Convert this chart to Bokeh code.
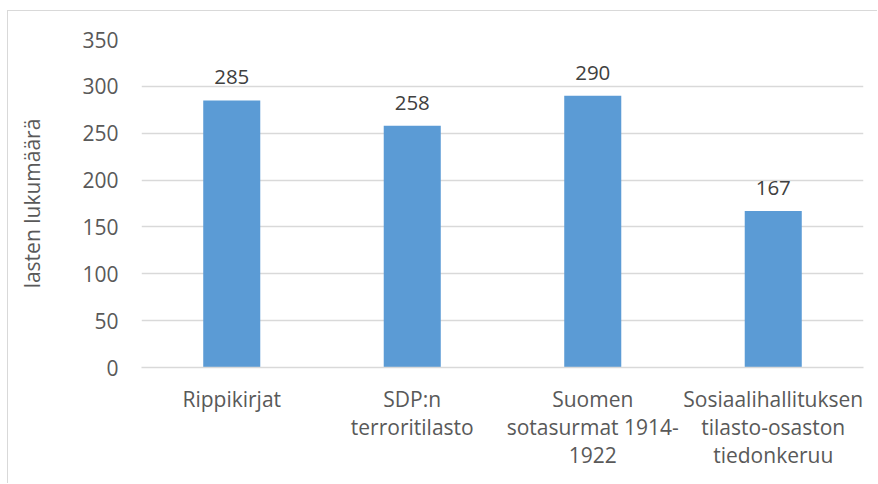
from bokeh.plotting import figure
from bokeh.models import ColumnDataSource, FactorRange, Range1d, FixedTicker
from bokeh.core.properties import value
from bokeh.embed import file_html
from bokeh.resources import INLINE

categories = ["Rippikirjat", "SDP:n\nterroritilasto", "Suomen\nsotasurmat 1914-\n1922",
              "Sosiaalihallituksen\ntilasto-osaston\ntiedonkeruu"]
counts = [285, 258, 290, 167]
y_ticks = [0, 50, 100, 150, 200, 250, 300, 350]
y_title = "lasten lukumäärä"

FONT = "Open Sans"
source = ColumnDataSource(dict(cat=categories, val=counts, lab=[str(v) for v in counts]))

p = figure(x_range=FactorRange(*categories, range_padding=0), y_range=Range1d(0, 350),
           width=870, height=473, output_backend="svg", toolbar_location=None,
           min_border_left=133, min_border_right=15, min_border_top=28, min_border_bottom=117)
p.styles = {"border-left": "1px solid #d9d9d9", "border-top": "1px solid #d9d9d9",
            "margin-left": "7px", "margin-top": "10px"}
p.outline_line_color = None
p.background_fill_color = "white"
p.border_fill_color = "white"

p.vbar(x="cat", top="val", width=0.316, source=source, color="#5B9BD5", line_color=None)
p.text(x="cat", y="val", text="lab", source=source, text_align="center",
       text_baseline="alphabetic", y_offset=-23, text_font=value(FONT),
       text_font_size="20.5px", text_color="#404040")

p.xgrid.grid_line_color = None
p.ygrid.grid_line_color = "#d9d9d9"
p.ygrid.grid_line_width = 1.5
p.yaxis.ticker = FixedTicker(ticks=y_ticks)

p.yaxis.axis_line_color = None
p.yaxis.major_tick_line_color = None
p.yaxis.minor_tick_line_color = None
p.yaxis.major_label_standoff = 17
p.yaxis.major_label_text_font = FONT
p.yaxis.major_label_text_font_size = "21px"
p.yaxis.major_label_text_color = "#595959"
p.yaxis.axis_label = y_title
p.yaxis.axis_label_text_font = FONT
p.yaxis.axis_label_text_font_size = "21px"
p.yaxis.axis_label_text_font_style = "normal"
p.yaxis.axis_label_text_color = "#595959"
p.yaxis.axis_label_standoff = 33

p.xaxis.axis_line_color = "#d9d9d9"
p.xaxis.axis_line_width = 1.5
p.xaxis.major_tick_line_color = None
p.xaxis.minor_tick_line_color = None
p.xaxis.major_label_standoff = 11
p.xaxis.major_label_text_font = FONT
p.xaxis.major_label_text_font_size = "21px"
p.xaxis.major_label_text_color = "#595959"
p.xaxis.major_label_text_line_height = 1.0

open("out.html", "w").write(file_html(p, INLINE))
